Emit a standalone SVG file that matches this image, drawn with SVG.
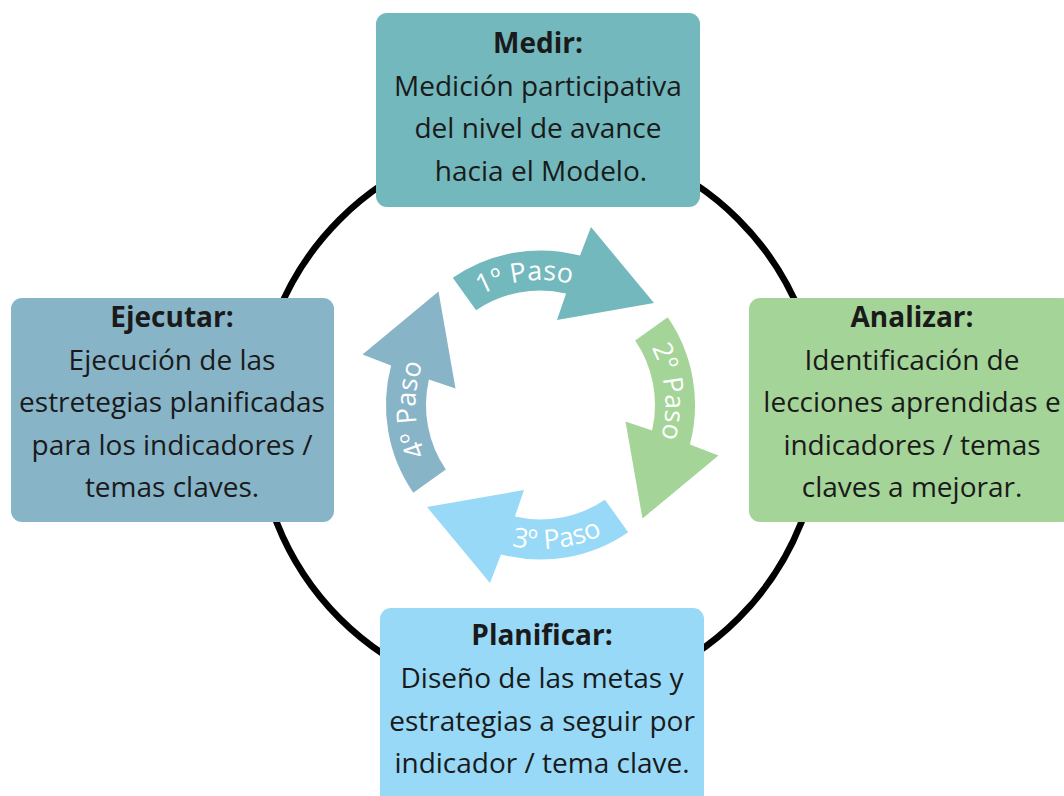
<svg xmlns="http://www.w3.org/2000/svg" width="1064" height="796" viewBox="0 0 1064 796">
<style>
.t{font-family:"Open Sans","Noto Sans","DejaVu Sans",sans-serif;font-size:28px;fill:#1a1a1a;text-anchor:middle}
.b{font-weight:bold}
.p{font-family:"Open Sans","Noto Sans","DejaVu Sans",sans-serif;font-size:27px;fill:#ffffff;text-anchor:middle}
.ring{fill:none;stroke:#000;stroke-width:6.5}
</style>
<defs>
<path id="arr" d="M-87.7,-127.2 A154.5,154.5 0 0 1 39.5,-149.4 L50.5,-178 L113.5,-102 L16.5,-85 L25.6,-111.6 A114.5,114.5 0 0 0 -64.4,-94.7 Z"/>
<path id="tp1" d="M449.1,319.75 A125,125 0 0 1 608.6,300.2"/>
<path id="tp2" d="M627.3,315.1 A125,125 0 0 1 644.1,474.9"/>
<path id="tp3" d="M462.1,525.8 A144,144 0 0 0 645.8,503.2"/>
<path id="tp4" d="M447.6,488.6 A125,125 0 0 1 442.0,328.0"/>
</defs>
<rect width="1064" height="796" fill="#ffffff"/>
<g id="connectors">
<circle class="ring" cx="539" cy="419" r="282"/>
</g>
<g id="medir">
<rect x="376" y="13" width="324" height="194" rx="11" fill="#72b8bd"/>
<text class="t b" x="538" y="53">Medir:</text>
<text class="t" x="538" y="95.5">Medición participativa</text>
<text class="t" x="538" y="138">del nivel de avance</text>
<text class="t" x="541" y="180.5">hacia el Modelo.</text>
</g>
<g id="ejecutar">
<rect x="11" y="298" width="323" height="224" rx="11" fill="#88b4c8"/>
<text class="t b" x="172" y="327">Ejecutar:</text>
<text class="t" x="172" y="369.5">Ejecución de las</text>
<text class="t" x="172" y="412">estretegias planificadas</text>
<text class="t" x="172" y="454.5">para los indicadores /</text>
<text class="t" x="172" y="497">temas claves.</text>
</g>
<g id="analizar">
<rect x="749" y="298" width="324" height="224" rx="11" fill="#a4d497"/>
<text class="t b" x="912" y="327">Analizar:</text>
<text class="t" x="912" y="369.5">Identificación de</text>
<text class="t" x="912" y="412">lecciones aprendidas e</text>
<text class="t" x="912" y="454.5">indicadores / temas</text>
<text class="t" x="912" y="497">claves a mejorar.</text>
</g>
<g id="planificar">
<rect x="380" y="608" width="324" height="224" rx="11" fill="#97d9f7"/>
<text class="t b" x="542" y="645">Planificar:</text>
<text class="t" x="542" y="688">Diseño de las metas y</text>
<text class="t" x="542" y="730.5">estrategias a seguir por</text>
<text class="t" x="542" y="773">indicador / tema clave.</text>
</g>
<g id="paso1">
<use href="#arr" transform="translate(540.5,405)" fill="#72b8bd"/>
<text class="p"><textPath href="#tp1" startOffset="50%">1º Paso</textPath></text>
</g>
<g id="paso2">
<use href="#arr" transform="translate(540.5,405) rotate(90)" fill="#a4d497"/>
<text class="p"><textPath href="#tp2" startOffset="50%">2º Paso</textPath></text>
</g>
<g id="paso3">
<use href="#arr" transform="translate(540.5,405) rotate(180)" fill="#97d9f7"/>
<text class="p"><textPath href="#tp3" startOffset="50%">3º Paso</textPath></text>
</g>
<g id="paso4">
<use href="#arr" transform="translate(540.5,405) rotate(270)" fill="#88b4c8"/>
<text class="p"><textPath href="#tp4" startOffset="50%">4º Paso</textPath></text>
</g>
</svg>
